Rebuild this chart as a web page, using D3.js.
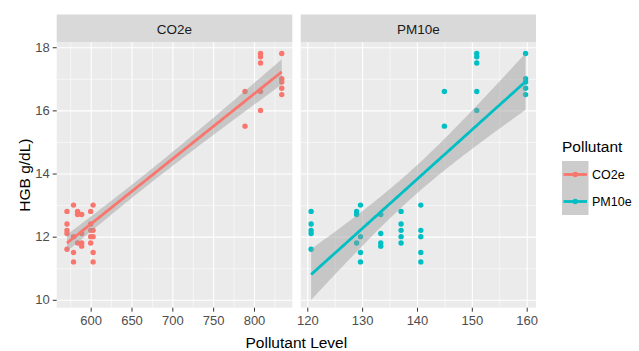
<head>
    <script src="https://d3js.org/d3.v7.min.js"></script>
    <style>
    body { margin: 0; background: #fff; }
    text { font-family: "Liberation Sans", Arial, sans-serif; }
    .gridlines .domain { stroke: none }
    .major line { stroke: #fff; stroke-width: 1.1px }
    .minor line { stroke: #fff; stroke-width: 0.55px }
    .axis .domain { stroke: none }
    .axis line { stroke: #333 }
    .axis text { fill: #4d4d4d; font-size: 13px }
    </style>
</head>
<svg id="chart" width="639" height="351"></svg>
<script>
// one entry per (CO2e, PM10e) sampling site, HGB readings at that site
const co2Levels  = [571, 579, 584, 589, 600, 603, 789, 808, 834];
const pm10Levels = [120.7, 129.7, 129.0, 133.4, 137.1, 140.7, 145.0, 150.9, 159.8];
const hgbGroups  = [
    [12.8, 12.4, 12.2, 12.1, 11.6],
    [13.0, 12.0, 11.5, 11.2],
    [12.8, 12.7, 11.8],
    [12.7, 12.1, 11.8, 11.7],
    [12.8, 12.4, 12.2, 12.0, 11.8],
    [13.0, 12.2, 12.0, 11.5, 11.2],
    [16.6, 15.5],
    [17.8, 17.7, 17.5, 16.6, 16.0],
    [17.8, 17.0, 16.9, 16.7, 16.5]
];
const pollutants = ['CO2e', 'PM10e'];
const colors = ['#F8766D', '#00BFC4'];
const yTicks = [10, 12, 14, 16, 18];
const yMinor = [11, 13, 15, 17];
const co2Ticks = [600, 650, 700, 750, 800];
const co2Minor = [575, 625, 675, 725, 775, 825];
const pm10Ticks = [120, 130, 140, 150, 160];
const pm10Minor = [125, 135, 145, 155];

const svg = d3.select('svg#chart');

const panelTop = 42.5, panelBottom = 307.7, stripTop = 14.5;
const y = d3.scaleLinear().domain([9.75, 18.15]).range([panelBottom, panelTop]);

const panels = [
    {name: pollutants[0], color: colors[0], levels: co2Levels, ticks: co2Ticks, minor: co2Minor,
     x: d3.scaleLinear().domain([558.4, 846.9]).range([56.7, 292.3])},
    {name: pollutants[1], color: colors[1], levels: pm10Levels, ticks: pm10Ticks, minor: pm10Minor,
     x: d3.scaleLinear().domain([118.8, 161.7]).range([300.7, 536])}
];

// linear model + 95% confidence band, like geom_smooth(method = "lm")
function fitLm(pts) {
    const n = pts.length;
    const mx = d3.mean(pts, d => d[0]), my = d3.mean(pts, d => d[1]);
    let sxx = 0, sxy = 0;
    pts.forEach(d => { sxx += (d[0]-mx)**2; sxy += (d[0]-mx)*(d[1]-my); });
    const b = sxy / sxx, a = my - b*mx;
    let sse = 0;
    pts.forEach(d => { sse += (d[1] - a - b*d[0])**2; });
    const s = Math.sqrt(sse / (n-2));
    const t = 2.028; // t(0.975, 36)
    const [x0, x1] = d3.extent(pts, d => d[0]);
    return d3.range(0, 81).map(i => {
        const xv = x0 + (x1-x0)*i/80;
        const fit = a + b*xv;
        const se = s*Math.sqrt(1/n + (xv-mx)**2/sxx);
        return {x: xv, fit: fit, lo: fit - t*se, hi: fit + t*se};
    });
}

panels.forEach(p => {
    const x = p.x;
    const [x0, x1] = x.range();
    const w = x1 - x0;

    // strip
    svg.append('rect').attr('x', x0).attr('y', stripTop).attr('width', w)
       .attr('height', panelTop - stripTop).attr('fill', '#d9d9d9');
    svg.append('text').attr('x', (x0+x1)/2).attr('y', (stripTop+panelTop)/2 + 5)
       .attr('text-anchor', 'middle').attr('font-size', '13.5px').attr('fill', '#1a1a1a')
       .text(p.name);

    // panel background
    svg.append('rect').attr('x', x0).attr('y', panelTop).attr('width', w)
       .attr('height', panelBottom - panelTop).attr('fill', '#ebebeb');

    // gridlines
    svg.append('g').attr('class', 'gridlines minor')
       .attr('transform', `translate(${x0},0)`)
       .call(d3.axisLeft(y).tickValues(yMinor).tickSize(-w).tickFormat(''));
    svg.append('g').attr('class', 'gridlines minor')
       .attr('transform', `translate(0,${panelBottom})`)
       .call(d3.axisBottom(x).tickValues(p.minor).tickSize(-(panelBottom-panelTop)).tickFormat(''));
    svg.append('g').attr('class', 'gridlines major')
       .attr('transform', `translate(${x0},0)`)
       .call(d3.axisLeft(y).tickValues(yTicks).tickSize(-w).tickFormat(''));
    svg.append('g').attr('class', 'gridlines major')
       .attr('transform', `translate(0,${panelBottom})`)
       .call(d3.axisBottom(x).tickValues(p.ticks).tickSize(-(panelBottom-panelTop)).tickFormat(''));

    // points
    const pts = [];
    p.levels.forEach((lv, i) => hgbGroups[i].forEach(h => pts.push([lv, h])));
    svg.append('g').selectAll('circle').data(pts).join('circle')
       .attr('cx', d => x(d[0])).attr('cy', d => y(d[1]))
       .attr('r', 2.7).attr('fill', p.color);

    // smooth
    const band = fitLm(pts);
    svg.append('path').datum(band)
       .attr('d', d3.area().x(d => x(d.x)).y0(d => y(d.lo)).y1(d => y(d.hi)))
       .attr('fill', '#999999').attr('fill-opacity', 0.45);
    svg.append('path').datum(band)
       .attr('d', d3.line().x(d => x(d.x)).y(d => y(d.fit)))
       .attr('fill', 'none').attr('stroke', p.color).attr('stroke-width', 2.8);

    // bottom axis
    svg.append('g').attr('class', 'axis')
       .attr('transform', `translate(0,${panelBottom})`)
       .call(d3.axisBottom(x).tickValues(p.ticks).tickSize(4).tickPadding(4));
});

// left axis
svg.append('g').attr('class', 'axis')
   .attr('transform', `translate(${panels[0].x.range()[0]},0)`)
   .call(d3.axisLeft(y).tickValues(yTicks).tickSize(4).tickPadding(3));

// axis titles
svg.append('text').attr('x', (56.7+536)/2).attr('y', 348).attr('text-anchor', 'middle')
   .attr('font-size', '15.5px').attr('fill', '#000').text('Pollutant Level');
svg.append('text').attr('transform', `translate(30,${(panelTop+panelBottom)/2}) rotate(-90)`)
   .attr('text-anchor', 'middle').attr('font-size', '15.5px').attr('fill', '#000').text('HGB g/dL)');

// legend
const legend = svg.append('g').attr('transform', 'translate(562,0)');
legend.append('text').attr('x', 0).attr('y', 152).attr('font-size', '15.5px').attr('fill', '#000').text('Pollutant');
pollutants.forEach((name, i) => {
    const ky = 161 + i*27;
    legend.append('rect').attr('x', 0).attr('y', ky).attr('width', 26.5).attr('height', 27)
          .attr('fill', '#cccccc');
    legend.append('line').attr('x1', 1.5).attr('x2', 25).attr('y1', ky+13.5).attr('y2', ky+13.5)
          .attr('stroke', colors[i]).attr('stroke-width', 2.8);
    legend.append('circle').attr('cx', 13.25).attr('cy', ky+13.5).attr('r', 2.7).attr('fill', colors[i]);
    legend.append('text').attr('x', 30).attr('y', ky+18).attr('font-size', '12.5px')
          .attr('fill', '#000').text(name);
});
</script>
